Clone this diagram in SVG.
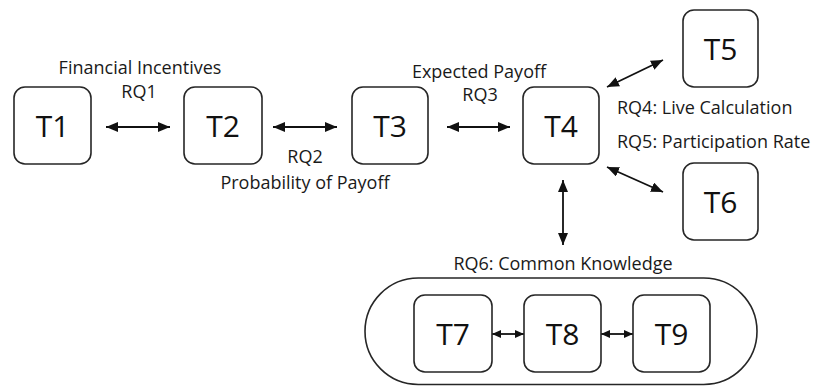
<svg xmlns="http://www.w3.org/2000/svg" width="816" height="386" viewBox="0 0 816 386">
  <style>
    .box { fill: #ffffff; stroke: #262626; stroke-width: 1.6; }
    .pill { fill: none; stroke: #262626; stroke-width: 1.6; }
    .tl { font-family: "Open Sans", "Liberation Sans", sans-serif; font-size: 30px; fill: #111111; text-anchor: middle; }
    .lbl { font-family: "Open Sans", "Liberation Sans", sans-serif; font-size: 18px; fill: #1a1a1a; text-anchor: middle; }
    .lbll { font-family: "Open Sans", "Liberation Sans", sans-serif; font-size: 18px; fill: #1a1a1a; text-anchor: start; }
    .conn { stroke: #111111; stroke-width: 1.8; fill: none; marker-start: url(#ah); marker-end: url(#ah); }
    .conns { stroke: #111111; stroke-width: 1.8; fill: none; marker-start: url(#ahs); marker-end: url(#ahs); }
  </style>
  <defs>
    <marker id="ah" markerUnits="userSpaceOnUse" markerWidth="13" markerHeight="11" refX="12" refY="5" orient="auto-start-reverse">
      <path d="M0,0 L12,5 L0,10 z" fill="#111111"/>
    </marker>
    <marker id="ahs" markerUnits="userSpaceOnUse" markerWidth="10" markerHeight="9" refX="9" refY="4" orient="auto-start-reverse">
      <path d="M0,0 L9,4 L0,8 z" fill="#111111"/>
    </marker>
  </defs>
  <rect width="816" height="386" fill="#ffffff"/>

  <g id="group-T7-T9">
    <rect class="pill" x="365" y="278" width="392" height="106.5" rx="53.25" ry="53.25"/>
  </g>

  <g id="connectors">
    <line class="conn" x1="106" y1="127" x2="170" y2="127"/>
    <line class="conn" x1="273" y1="127" x2="337" y2="127"/>
    <line class="conn" x1="447" y1="127" x2="510" y2="127"/>
    <line class="conn" x1="607" y1="87" x2="663" y2="60"/>
    <line class="conn" x1="607" y1="167" x2="663" y2="192"/>
    <line class="conn" x1="563" y1="180" x2="563" y2="245"/>
    <line class="conns" x1="492" y1="334" x2="524" y2="334"/>
    <line class="conns" x1="601" y1="334" x2="633" y2="334"/>
  </g>

  <g id="labels">
    <text class="lbl" x="140" y="74">Financial Incentives</text>
    <text class="lbl" x="139" y="98">RQ1</text>
    <text class="lbl" x="305" y="163">RQ2</text>
    <text class="lbl" x="305" y="189">Probability of Payoff</text>
    <text class="lbl" x="479" y="78">Expected Payoff</text>
    <text class="lbl" x="480" y="101">RQ3</text>
    <text class="lbll" x="617" y="114">RQ4: Live Calculation</text>
    <text class="lbll" x="617" y="148">RQ5: Participation Rate</text>
    <text class="lbl" x="563" y="270">RQ6: Common Knowledge</text>
  </g>

  <g id="T1"><rect class="box" x="14" y="87" width="77" height="77" rx="11"/><text class="tl" x="52.5" y="136.5">T1</text></g>
  <g id="T2"><rect class="box" x="184" y="87" width="78" height="77" rx="11"/><text class="tl" x="223" y="136.5">T2</text></g>
  <g id="T3"><rect class="box" x="352" y="87" width="76" height="77" rx="11"/><text class="tl" x="390" y="136.5">T3</text></g>
  <g id="T4"><rect class="box" x="523" y="87" width="76" height="77" rx="11"/><text class="tl" x="561" y="136.5">T4</text></g>
  <g id="T5"><rect class="box" x="683" y="10" width="75" height="77" rx="11"/><text class="tl" x="720.5" y="59.5">T5</text></g>
  <g id="T6"><rect class="box" x="683" y="163" width="75" height="77" rx="11"/><text class="tl" x="720.5" y="212.5">T6</text></g>
  <g id="T7"><rect class="box" x="414" y="295" width="78" height="77" rx="11"/><text class="tl" x="453" y="344.5">T7</text></g>
  <g id="T8"><rect class="box" x="524" y="295" width="77" height="77" rx="11"/><text class="tl" x="562.5" y="344.5">T8</text></g>
  <g id="T9"><rect class="box" x="633" y="295" width="77" height="77" rx="11"/><text class="tl" x="671.5" y="344.5">T9</text></g>
</svg>
